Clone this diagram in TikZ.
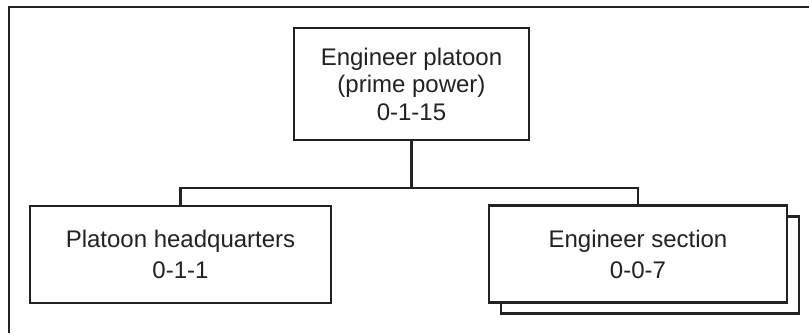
\documentclass[tikz,border=0pt]{standalone}
\usepackage{fontspec}
\setmainfont{Liberation Sans}
\definecolor{ink}{HTML}{222222}
\begin{document}
\begin{tikzpicture}[x=1pt,y=-1pt,line width=2.2pt,draw=ink,
unit/.style={draw=ink,fill=white,text=ink,align=center,inner sep=0pt,font=\fontsize{24}{27.5}\selectfont},
lowunit/.style={unit,minimum width=#1,minimum height=97,font=\fontsize{24}{31}\selectfont}]
\useasboundingbox (0,0) rectangle (809,333);
% frame
\draw[ink] (9,333)--(9,7)--(809,7);
% boxes
\node[unit,minimum width=235,minimum height=112] (plt) at (411.5,84) {Engineer platoon\\(prime power)\\0-1-15};
\node[lowunit=301] (hq) at (180.5,254.5) {Platoon headquarters\\0-1-1};
\node[lowunit=298] (secb) at (650,265) {};
\node[lowunit=298] (sec) at (638,254) {Engineer section\\0-0-7};
% lines
\coordinate (bus) at (plt.south|-0,188);
\draw[ink] (plt.south)--(bus) (hq.north)|-(bus)-|(sec.north);
\end{tikzpicture}
\end{document}
